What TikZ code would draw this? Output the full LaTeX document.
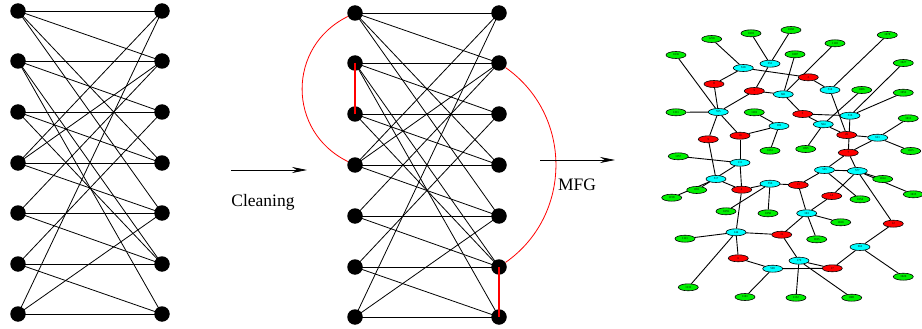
\documentclass[tikz,border=0pt]{standalone}
\usepackage{fontspec}
\setmainfont{Liberation Serif}
\usetikzlibrary{arrows.meta,shapes.geometric,backgrounds}
\definecolor{ncyan}{RGB}{0,255,255}
\definecolor{ngreen}{RGB}{0,240,0}
\definecolor{nred}{RGB}{255,0,0}
\begin{document}
\begin{tikzpicture}[x=1pt,y=-1pt,
  dot/.style={circle,fill=black,minimum size=15.5pt,inner sep=0pt},
  bedge/.style={black,line width=0.8pt},
  redge/.style={nred,line width=0.8pt},
  rbar/.style={draw=nred,line width=1.4pt},
  ell/.style={ellipse,draw=black,line width=0.6pt,minimum width=20pt,minimum height=7pt,inner sep=0pt,font=\fontsize{3}{3}\selectfont},
  gn/.style={ell,fill=ngreen},
  cn/.style={ell,fill=ncyan},
  rn/.style={ell,fill=nred},
  gedge/.style={black,line width=0.9pt},
  arr/.style={-{Stealth[length=15pt,width=6pt]},line width=0.8pt},
  lbl/.style={font=\fontsize{17.5}{20}\selectfont,inner sep=0pt}
]
\useasboundingbox (0,0) rectangle (922,329);

% ---------- left bipartite graph ----------
\foreach \i/\y in {1/11,2/61,3/112,4/163,5/213,6/264,7/314} {
  \node[dot] (a\i) at (18,\y) {};
  \node[dot] (b\i) at (162,\y) {};
}
% ---------- middle bipartite graph ----------
\foreach \i/\y in {1/13,2/63,3/114,4/165,5/216,6/267,7/317} {
  \node[dot] (c\i) at (355,\y) {};
  \node[dot] (d\i) at (499,\y) {};
}
\begin{scope}[on background layer]
  \foreach \i/\j in {1/1,1/2,1/4,1/5,2/2,2/3,2/6,2/7,3/3,3/4,3/6,4/1,4/2,4/4,4/5,5/2,5/5,5/6,6/3,6/6,6/7,7/1,7/5,7/7} {
    \draw[bedge] (a\i.center) -- (b\j.center);
    \draw[bedge] (c\i.center) -- (d\j.center);
  }
  \draw[redge] (c1) to[bend right=64,looseness=1.2] (c4);
  \draw[redge] (d2) to[bend left=55,looseness=1.08] (d6);
\end{scope}
\draw[rbar] (c2.center) -- (c3.center);
\draw[rbar] (d6.center) -- (d7.center);

% ---------- arrows and labels ----------
\coordinate (ca) at (231,170);
\coordinate (cb) at (307,170);
\draw[arr] (ca) -- (cb);
\node[lbl] (clean) at (263,202) {Cleaning};
\coordinate (ma) at (540,160);
\coordinate (mb) at (615,160);
\draw[arr] (ma) -- (mb);
\node[lbl] (mfg) at (577,185) {MFG};

% ---------- MFG graph ----------
% green
\node[gn] (g1) at (711.7,39) {1250};
\node[gn] (g2) at (751,33.3) {1093};
\node[gn] (g3) at (791,30) {1068};
\node[gn] (g4) at (835,43.3) {1118};
\node[gn] (g5) at (887.3,35) {1078};
\node[gn] (g6) at (676,55) {1036};
\node[gn] (g7) at (795,54.3) {1087};
\node[gn] (g8) at (903.3,63) {1027};
\node[gn] (g9) at (861.7,90) {1086};
\node[gn] (g10) at (903.3,92.7) {1052};
\node[gn] (g11) at (676,112.3) {1311};
\node[gn] (g12) at (754.3,112.3) {1110};
\node[gn] (g13) at (908.3,118.3) {1011};
\node[gn] (g14) at (770,150.7) {1061};
\node[gn] (g15) at (805.7,149) {1095};
\node[gn] (g16) at (910.7,151) {1025};
\node[gn] (g17) at (678.3,156.3) {1157};
\node[gn] (g18) at (696.7,190) {1051};
\node[gn] (g19) at (671.7,197.7) {1158};
\node[gn] (g20) at (882.7,179) {1014};
\node[gn] (g21) at (913.3,194.3) {1015};
\node[gn] (g22) at (860,199.3) {1054};
\node[gn] (g23) at (726,211.3) {1055};
\node[gn] (g24) at (768,213.3) {1058};
\node[gn] (g25) at (840.7,222.3) {1010};
\node[gn] (g26) at (685,238.7) {1111};
\node[gn] (g27) at (816.7,239.3) {1105};
\node[gn] (g28) at (903.3,276.7) {1020};
\node[gn] (g29) at (688.3,287.3) {1131};
\node[gn] (g30) at (745,297) {1101};
\node[gn] (g31) at (796,297.7) {1132};
\node[gn] (g32) at (851.7,297.7) {1081};
% cyan
\node[cn] (k1) at (743.3,68) {618};
\node[cn] (k2) at (770,63.7) {651};
\node[cn] (k3) at (783.3,94.3) {601};
\node[cn] (k4) at (830,90) {514};
\node[cn] (k5) at (718.3,112) {555};
\node[cn] (k6) at (779,126) {182};
\node[cn] (k7) at (823.3,124.3) {504};
\node[cn] (k8) at (850,115.7) {516};
\node[cn] (k9) at (877.7,137.7) {621};
\node[cn] (k10) at (740,162.7) {111};
\node[cn] (k11) at (824.5,170) {565};
\node[cn] (k12) at (857.3,171) {577};
\node[cn] (k13) at (716,179) {517};
\node[cn] (k14) at (770,183.7) {556};
\node[cn] (k15) at (806.7,213.3) {163};
\node[cn] (k16) at (736,232.3) {144};
\node[cn] (k17) at (860,247) {662};
\node[cn] (k18) at (772.7,268.7) {598};
\node[cn] (k19) at (799,260.7) {179};
% red
\node[rn] (r1) at (714,84) {8};
\node[rn] (r2) at (754.3,91) {5};
\node[rn] (r3) at (808.3,77.3) {2};
\node[rn] (r4) at (802.7,114) {3};
\node[rn] (r5) at (708.3,139.3) {9};
\node[rn] (r6) at (740,135.7) {10};
\node[rn] (r7) at (846.7,135) {20};
\node[rn] (r8) at (848.3,152.7) {7};
\node[rn] (r9) at (741.7,189.7) {4};
\node[rn] (r10) at (798.3,185) {13};
\node[rn] (r11) at (831.7,196) {14};
\node[rn] (r12) at (893.3,223.7) {12};
\node[rn] (r13) at (781.7,234.7) {11};
\node[rn] (r14) at (738.3,258.3) {6};
\node[rn] (r15) at (832.3,268.3) {17};

\begin{scope}[on background layer]
  \foreach \p/\q in {g1/k1,g6/k5,g2/k2,g3/k2,k1/r1,k1/r3,k2/r2,r2/k5,r2/k3,k3/g7,k3/g4,
    r3/k4,g5/k4,k4/r7,k3/r4,r4/k7,r4/k8,k6/g12,k6/g14,k6/r6,k5/g11,k5/r5,k5/r6,k5/r1,
    r6/k10,r5/k13,g17/k10,k10/r9,k10/g18,g19/k13,k13/r9,r9/k14,r9/k16,k14/r10,k14/g24,
    k14/g23,r10/k11,r10/k15,k11/g22,k11/k12,k12/g20,k12/g21,r8/k11,k9/r8,r8/k12,k8/r8,
    k7/g15,k7/g9,k7/r7,r7/k9,k8/g10,k8/g8,k9/g13,k9/g16,k16/g26,k16/g29,k16/r13,k16/r14,
    r14/k18,k18/g30,k18/r15,r13/k19,r13/k15,k15/r11,k15/g25,k15/g27,r11/k12,k12/r12,
    r12/k17,k17/r15,k17/g28,k19/r15,k19/g31,k19/g32} {
    \draw[gedge] (\p) -- (\q);
  }
\end{scope}
\end{tikzpicture}
\end{document}
